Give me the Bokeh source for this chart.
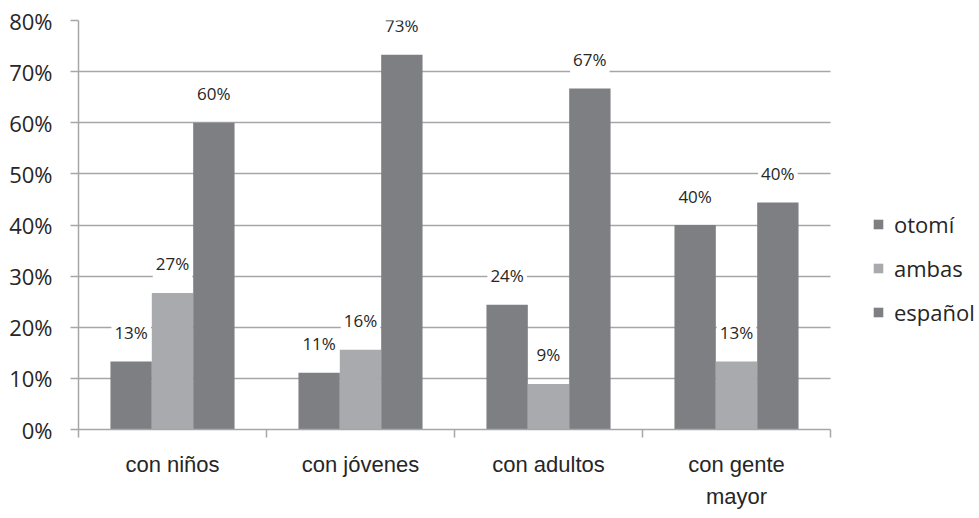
from bokeh.plotting import figure
from bokeh.models import (ColumnDataSource, Range1d, FixedTicker, LinearAxis,
                          Legend, LegendItem, PrintfTickFormatter)
from bokeh.core.properties import value
from bokeh.embed import file_html
from bokeh.resources import INLINE

# ---- data ----
categories = ["con niños", "con jóvenes", "con adultos", "con gente\nmayor"]
series_names = ["otomí", "ambas", "español"]
otomi = [13.3, 11.1, 24.4, 40.0]
ambas = [26.7, 15.6, 8.9, 13.3]
espanol = [60.0, 73.3, 66.7, 44.4]
otomi_labels = ["13%", "11%", "24%", "40%"]
ambas_labels = ["27%", "16%", "9%", "13%"]
espanol_labels = ["60%", "73%", "67%", "40%"]
y_ticks = [0, 10, 20, 30, 40, 50, 60, 70, 80]

DARK = "#7e7f83"
LIGHT = "#a9aaad"
GRID = "#a6a6a9"
TEXT = "#262626"

n = len(categories)
centers = [i + 0.5 for i in range(n)]
bw = 0.22
# plot area widened to hold the legend; the category axis covers 752 of 901 px
x_end = n * 901 / 752

p = figure(width=979, height=518, output_backend="svg", toolbar_location=None,
           x_range=Range1d(0, x_end), y_range=Range1d(0, 80),
           min_border_left=78, min_border_right=0, min_border_top=20,
           min_border_bottom=89, x_axis_location=None, y_axis_location=None)
p.outline_line_color = None
p.background_fill_color = "white"

series = [(otomi, otomi_labels, DARK, -bw), (ambas, ambas_labels, LIGHT, 0.0),
          (espanol, espanol_labels, DARK, bw)]
renderers = []
label_sources = []
for vals, labs, col, off in series:
    src = ColumnDataSource(dict(x=[c + off for c in centers], top=vals, lab=labs))
    r = p.vbar(x="x", top="top", bottom=0, width=bw, source=src,
               fill_color=col, line_color=None)
    renderers.append(r)
    label_sources.append(src)

for src in label_sources:
    p.text(x="x", y="top", text="lab", source=src, y_offset=-29,
           text_align="center", text_baseline="middle",
           text_font=value("Open Sans"), text_font_size="17px", text_color=TEXT,
           background_fill_color="white", padding=3)

# y axis
yaxis = LinearAxis(ticker=FixedTicker(ticks=y_ticks),
                   formatter=PrintfTickFormatter(format="%d%%"))
yaxis.axis_line_color = GRID
yaxis.axis_line_width = 1.5
yaxis.major_tick_line_color = GRID
yaxis.major_tick_line_width = 1.5
yaxis.major_tick_out = 8
yaxis.major_tick_in = 0
yaxis.minor_tick_line_color = None
yaxis.major_label_standoff = 18
yaxis.major_label_text_font = "Open Sans"
yaxis.major_label_text_font_size = "22px"
yaxis.major_label_text_color = TEXT
p.add_layout(yaxis, "left")

# x axis: labels at centres, minor ticks at category boundaries
xaxis = LinearAxis(ticker=FixedTicker(ticks=centers, minor_ticks=list(range(n + 1))),
                   bounds=(0, n))
xaxis.major_label_overrides = {c: lab for c, lab in zip(centers, categories)}
xaxis.axis_line_color = GRID
xaxis.axis_line_width = 1.5
xaxis.major_tick_line_color = None
xaxis.major_tick_out = 8
xaxis.major_tick_in = 0
xaxis.minor_tick_line_color = GRID
xaxis.minor_tick_line_width = 1.5
xaxis.minor_tick_out = 8
xaxis.minor_tick_in = 0
xaxis.major_label_standoff = 14
xaxis.major_label_text_font = "Liberation Sans"
xaxis.major_label_text_font_size = "22px"
xaxis.major_label_text_color = TEXT
xaxis.major_label_text_line_height = 1.3
p.add_layout(xaxis, "below")

p.ygrid.grid_line_color = GRID
p.ygrid.grid_line_width = 1.5
p.ygrid.ticker = FixedTicker(ticks=y_ticks)
p.ygrid.cross_bounds = (0, n)
p.xgrid.grid_line_color = None

legend = Legend(items=[LegendItem(label=s, renderers=[r]) for s, r in zip(series_names, renderers)],
                location=(794, 102), orientation="vertical")
legend.border_line_color = None
legend.background_fill_alpha = 0
legend.padding = 0
legend.margin = 0
legend.spacing = 14
legend.glyph_width = 12
legend.glyph_height = 12
legend.label_height = 20
legend.label_standoff = 10
legend.label_text_font = "Open Sans"
legend.label_text_font_size = "22px"
legend.label_text_color = TEXT
p.add_layout(legend, "center")

open("out.html", "w").write(file_html(p, INLINE))
